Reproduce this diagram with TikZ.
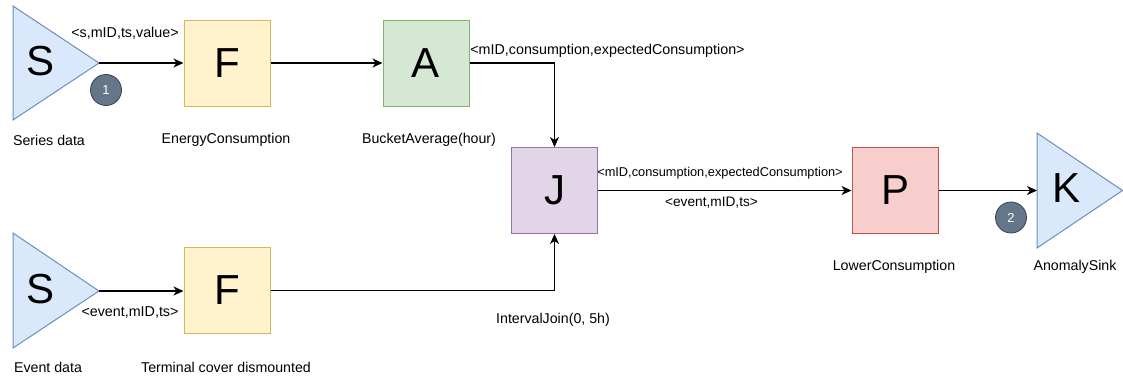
\documentclass[tikz,border=0pt]{standalone}
\usepackage{fontspec}
\setmainfont{Liberation Sans}
\usetikzlibrary{arrows.meta}
\definecolor{bluefill}{HTML}{DAE8FC}\definecolor{bluedraw}{HTML}{6C8EBF}
\definecolor{yelfill}{HTML}{FFF2CC}\definecolor{yeldraw}{HTML}{D6B656}
\definecolor{grnfill}{HTML}{D5E8D4}\definecolor{grndraw}{HTML}{82B366}
\definecolor{purfill}{HTML}{E1D5E7}\definecolor{purdraw}{HTML}{9673A6}
\definecolor{redfill}{HTML}{F8CECC}\definecolor{reddraw}{HTML}{B85450}
\definecolor{badgefill}{HTML}{647687}\definecolor{badgedraw}{HTML}{314354}
\tikzset{
  opbox/.style={draw, line width=1pt, minimum width=86pt, minimum height=86pt, inner sep=0pt, font=\fontsize{42}{42}\selectfont},
  tri/.style={draw=bluedraw, fill=bluefill, line width=1pt, line join=miter},
  bigletter/.style={inner sep=0pt, font=\fontsize{42}{42}\selectfont},
  conn/.style={line width=1.3pt, -{Stealth[length=10pt,width=9pt,inset=3pt]}},
  caption/.style={inner sep=0pt, font=\fontsize{14.2}{16}\selectfont},
  elabel/.style={inner sep=0pt, font=\fontsize{14.3}{16}\selectfont},
  badge/.style={circle, draw=badgedraw, fill=badgefill, line width=0.8pt, minimum size=31pt, inner sep=0pt, text=white, font=\fontsize{13}{13}\selectfont},
}
\begin{document}
\begin{tikzpicture}[x=1pt,y=-1pt]
\useasboundingbox (0,0) rectangle (1123,381);
% source triangles and sink
\draw[tri] (13,6) -- (13,120) -- (99,63) -- cycle;
\draw[tri] (13,233) -- (13,348) -- (99,291) -- cycle;
\draw[tri] (1037,133) -- (1037,248) -- (1122.5,190.5) -- cycle;
\node[bigletter] (s1) at (41,61) {S};
\node[bigletter] (s2) at (41,289) {S};
\node[bigletter] (k) at (1066,188) {K};
\coordinate (s1tip) at (99,63);
\coordinate (s2tip) at (99,291);
\coordinate (kbase) at (1037,190.5);
% operator boxes
\node[opbox, draw=yeldraw, fill=yelfill] (f1) at (227,63) {F};
\node[opbox, draw=grndraw, fill=grnfill] (a1) at (426,63) {A};
\node[opbox, draw=purdraw, fill=purfill] (j) at (554.5,190.5) {J};
\node[opbox, draw=reddraw, fill=redfill] (p) at (895,190.5) {P};
\node[opbox, draw=yeldraw, fill=yelfill] (f2) at (227,290.5) {F};
% connectors
\draw[conn] (s1tip) -- (f1.west);
\draw[conn] (f1.east) -- (a1.west);
\draw[conn] (a1.east) -| (j.north);
\draw[conn] (s2tip) -- (f2.west |- s2tip);
\draw[conn] (f2.east) -| (j.south);
\draw[conn] (j.east) -- (p.west);
\draw[conn] (p.east) -- (kbase);
% edge labels
\node[elabel] (l1) at (125,33) {<s,mID,ts,value>};
\node[elabel] (l2) at (607.5,50.5) {<mID,consumption,expectedConsumption>};
\node[elabel, font=\fontsize{12.8}{15}\selectfont] (l3) at (720,173.5) {<mID,consumption,expectedConsumption>};
\node[elabel, font=\fontsize{13.7}{15}\selectfont] (l4) at (711.5,203) {<event,mID,ts>};
\node[elabel] (l5) at (130,312) {<event,mID,ts>};
% captions
\node[caption] (c1) at (49,140) {Series data};
\node[caption] (c2) at (226,140) {EnergyConsumption};
\node[caption] (c3) at (429,140) {BucketAverage(hour)};
\node[caption] (c4) at (553,320) {IntervalJoin(0, 5h)};
\node[caption] (c5) at (894,267) {LowerConsumption};
\node[caption] (c6) at (1075,267) {AnomalySink};
\node[caption] (c7) at (48,367) {Event data};
\node[caption] (c8) at (226,367) {Terminal cover dismounted};
% badges
\node[badge] (b1) at (106,90) {1};
\node[badge] (b2) at (1011,217.5) {2};
\end{tikzpicture}
\end{document}
